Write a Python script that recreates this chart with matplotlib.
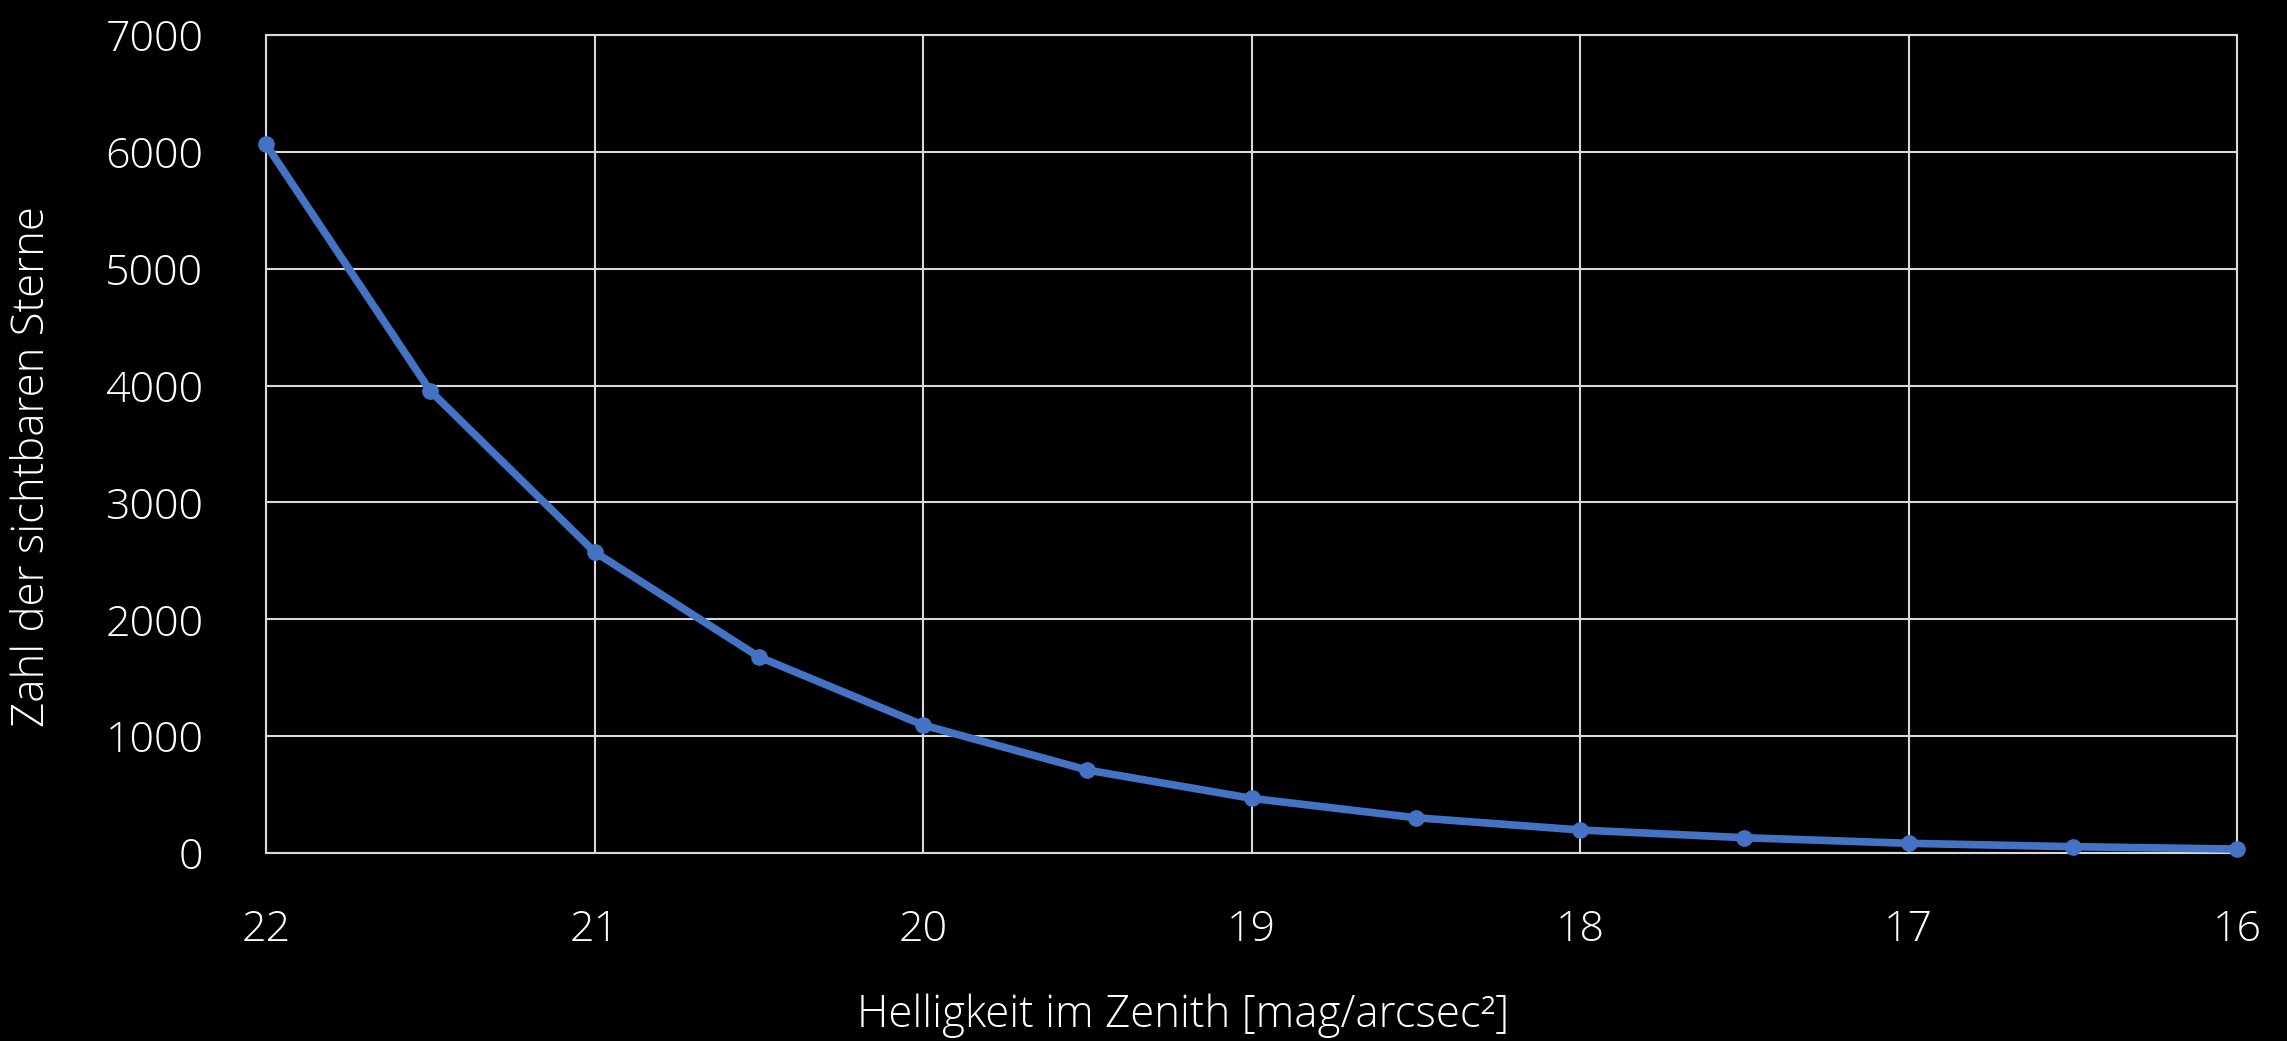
import matplotlib
matplotlib.use("Agg")
import matplotlib.pyplot as plt
from matplotlib import font_manager as fm

magnitude = [22, 21.5, 21, 20.5, 20, 19.5, 19, 18.5, 18, 17.5, 17, 16.5, 16]
stars = [6063, 3955, 2577, 1679, 1095, 710, 468, 302, 197, 131, 83, 54, 34]
x_ticks = [22, 21, 20, 19, 18, 17, 16]
y_ticks = [0, 1000, 2000, 3000, 4000, 5000, 6000, 7000]
x_label = "Helligkeit im Zenith [mag/arcsec²]"
y_label = "Zahl der sichtbaren Sterne"

names = {f.name for f in fm.fontManager.ttflist}
fam = "Open Sans" if "Open Sans" in names else "DejaVu Sans"
plt.rcParams['font.family'] = [fam, 'DejaVu Sans']
plt.rcParams['font.weight'] = 'light'

fig = plt.figure(figsize=(22.87, 10.41), dpi=100, facecolor="black")
ax = fig.add_axes([266/2287, 1 - 853/1041, (2237-266)/2287, (853-35)/1041])
ax.set_facecolor("black")

ax.plot(magnitude, stars, color="#4472C4", linewidth=5.5, marker="o",
        markersize=11, solid_capstyle="round", zorder=3, clip_on=False)

ax.set_xlim(22, 16)
ax.set_ylim(0, 7000)
ax.set_xticks(x_ticks)
ax.set_yticks(y_ticks)
ax.set_xticklabels([str(v) for v in x_ticks])
ax.set_yticklabels([str(v) for v in y_ticks])
ax.grid(True, color="#d9d9d9", linewidth=1.5, zorder=1)
for s in ax.spines.values():
    s.set_color("#d9d9d9")
    s.set_linewidth(1.5)
ax.tick_params(axis="both", length=0, colors="white", labelsize=31)
ax.tick_params(axis="y", pad=45)
ax.tick_params(axis="x", pad=40)
for lab in ax.get_xticklabels() + ax.get_yticklabels():
    lab.set_fontweight("light")

fig.text(1183/2287, 1 - 1016/1041, x_label, color="white", fontsize=31.5,
         ha="center", va="center", fontweight="light")
fig.text(33/2287, 1 - 467/1041, y_label, color="white", fontsize=31.5,
         ha="center", va="center", rotation=90, fontweight="light")

fig.savefig("out.png", dpi=100, facecolor="black")
